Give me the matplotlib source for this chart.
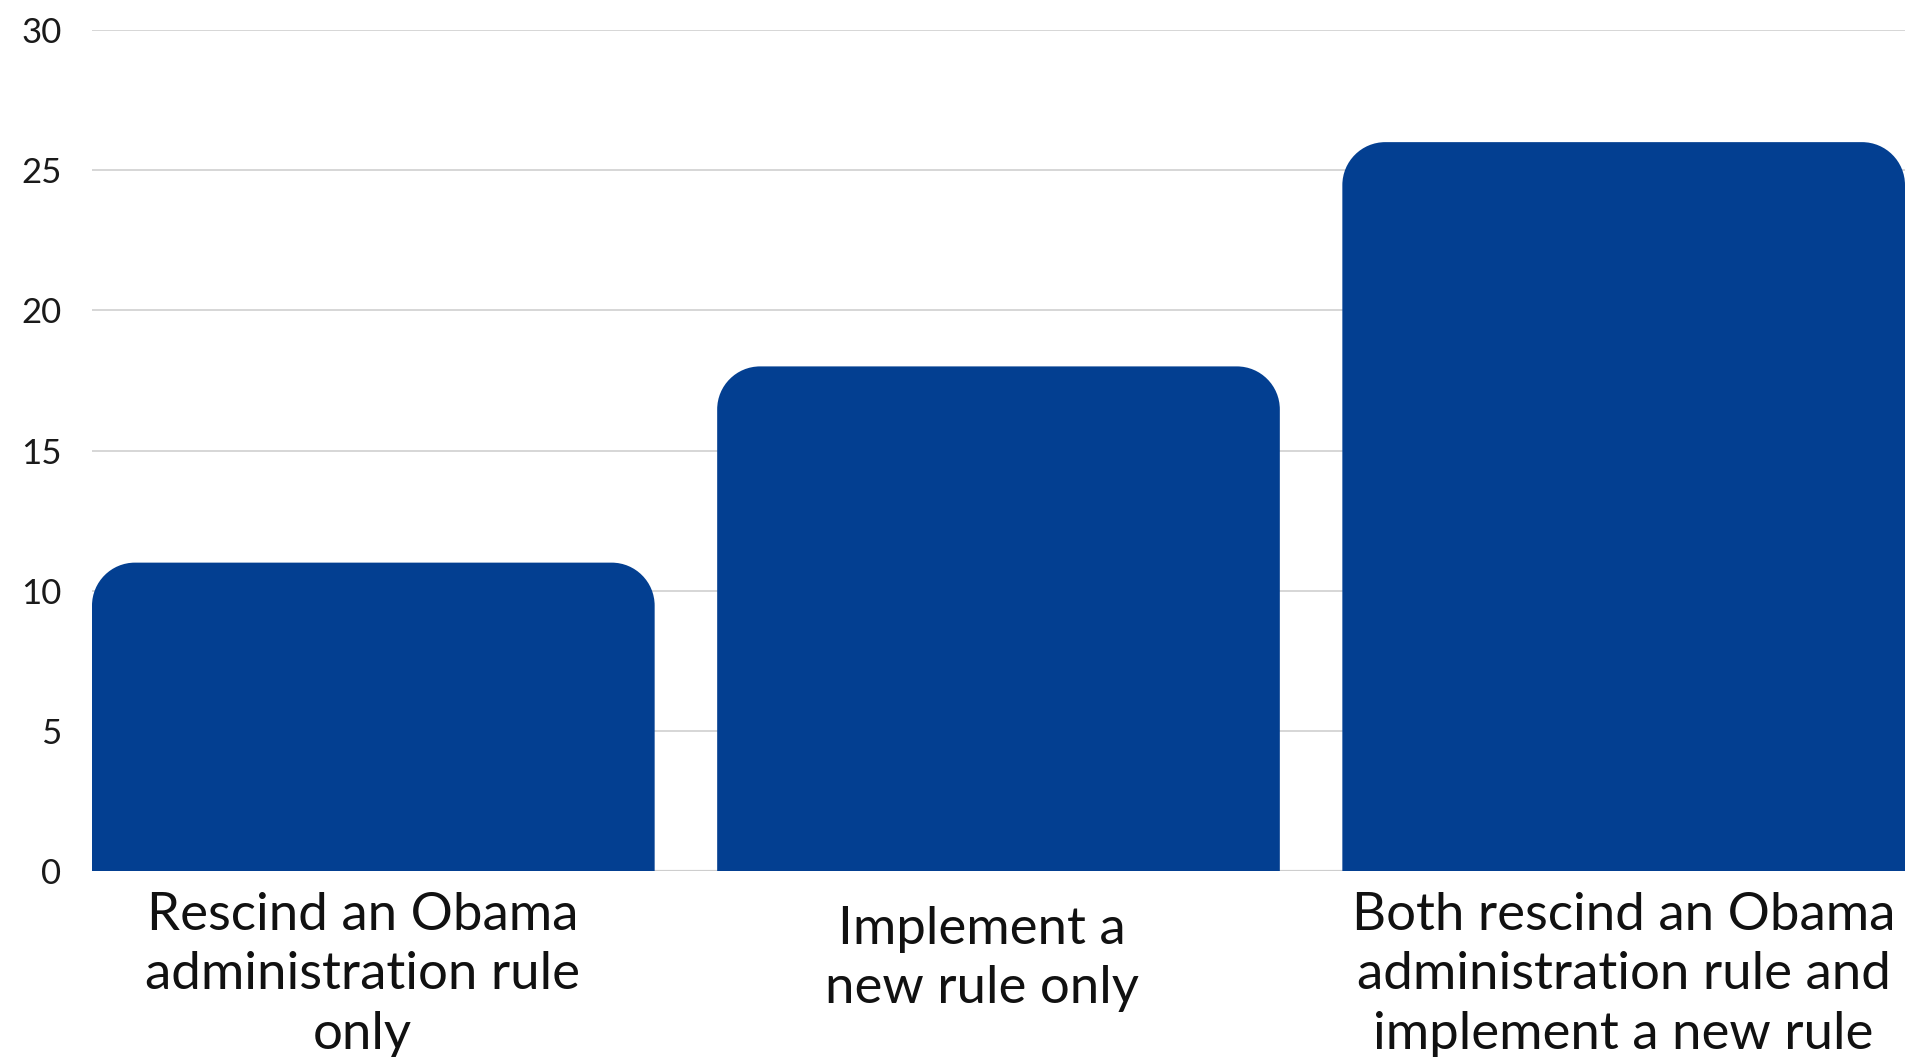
import numpy as np
import matplotlib
matplotlib.use("Agg")
import matplotlib.pyplot as plt
from matplotlib.path import Path
from matplotlib.patches import PathPatch

# Data
categories = ["Rescind an Obama\nadministration rule\nonly",
              "Implement a\nnew rule only",
              "Both rescind an Obama\nadministration rule and\nimplement a new rule"]
values = [11, 18, 26]
yticks = [0, 5, 10, 15, 20, 25, 30]

bar_color = "#033f91"
plt.rcParams['font.family'] = ['Lato', 'DejaVu Sans']

fig = plt.figure(figsize=(19.05, 10.57), dpi=100)
ax = fig.add_axes([92 / 1905, 186 / 1057, 1 - 92 / 1905, 841 / 1057])

x = np.arange(len(categories))
bars = ax.bar(x, values, width=0.9, color=bar_color, zorder=3)

ax.set_xlim(-0.45, 2.45)
ax.set_ylim(0, 30)

# rounded top corners, ~43 px radius
fig.canvas.draw()
px_x = ax.transData.transform((1, 0))[0] - ax.transData.transform((0, 0))[0]
px_y = ax.transData.transform((0, 1))[1] - ax.transData.transform((0, 0))[1]
rx = 43 / px_x
ry = 43 / px_y
k = 0.5523
for b in bars:
    x0 = b.get_x()
    x1 = x0 + b.get_width()
    h = b.get_height()
    verts = [(x0, 0), (x0, h - ry),
             (x0, h - ry + k * ry), (x0 + rx - k * rx, h), (x0 + rx, h),
             (x1 - rx, h),
             (x1 - rx + k * rx, h), (x1, h - ry + k * ry), (x1, h - ry),
             (x1, 0), (x0, 0)]
    codes = [Path.MOVETO, Path.LINETO,
             Path.CURVE4, Path.CURVE4, Path.CURVE4,
             Path.LINETO,
             Path.CURVE4, Path.CURVE4, Path.CURVE4,
             Path.LINETO, Path.CLOSEPOLY]
    b.set_visible(False)
    ax.add_patch(PathPatch(Path(verts, codes), facecolor=bar_color,
                           edgecolor="none", zorder=3))

# grid
ax.set_yticks(yticks)
ax.set_yticklabels([str(t) for t in yticks], fontsize=25, color="#1a1a1a")
ax.tick_params(axis='y', length=0, pad=22)
ax.grid(axis='y', color="#d3d3d3", linewidth=1.3, zorder=0)
ax.axhline(0, color="#a0a0a0", linewidth=1.5, zorder=1)
for s in ax.spines.values():
    s.set_visible(False)

ax.set_xticks([])
offsets = [(-8, -15), (-12, -25), (0, -15)]
for i, lab in enumerate(categories):
    ax.annotate(lab, xy=(x[i], 0), xytext=offsets[i], textcoords='offset points',
                ha='center', va='top', fontsize=38, color="#111111",
                linespacing=1.33, annotation_clip=False)

fig.savefig("out.png", dpi=100)
